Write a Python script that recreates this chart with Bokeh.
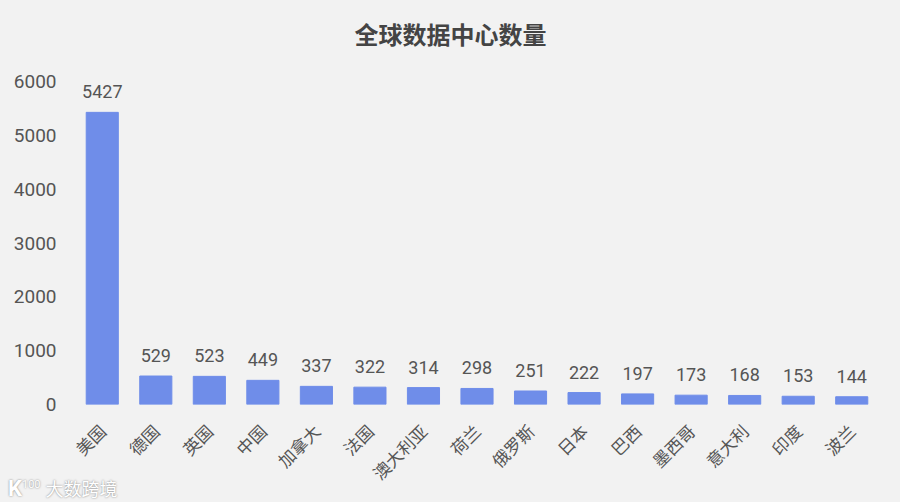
from bokeh.plotting import figure
from bokeh.embed import file_html
from bokeh.resources import INLINE
from bokeh.layouts import column
from bokeh.models import ColumnDataSource, Range1d, FixedTicker, Title, Div
from bokeh.core.properties import value
import math

countries = ["美国","德国","英国","中国","加拿大","法国","澳大利亚","荷兰","俄罗斯","日本","巴西","墨西哥","意大利","印度","波兰"]
counts = [5427,529,523,449,337,322,314,298,251,222,197,173,168,153,144]
y_ticks = [0,1000,2000,3000,4000,5000,6000]
FONT = "Noto Sans CJK SC"
BG = "#F2F2F2"
TXT = "#555555"
p = figure(width=900, height=502, x_range=countries, y_range=Range1d(0, 6000),
           output_backend="svg", toolbar_location=None, background_fill_color=BG,
           border_fill_color=BG, outline_line_color=None,
           min_border_left=75, min_border_right=22, min_border_top=81, min_border_bottom=98)
src = ColumnDataSource(dict(c=countries, v=counts, t=[str(v) for v in counts]))
p.vbar(x="c", top="v", width=0.6, source=src, color="#6F8DE9")
p.text(x="c", y="v", text="t", source=src, text_align="center", text_baseline="bottom", y_offset=-14,
       text_font=value("Roboto"), text_font_size="18px", text_color=TXT)
p.grid.visible = False
p.yaxis.ticker = FixedTicker(ticks=y_ticks)
p.yaxis.axis_line_color = None
p.yaxis.major_tick_line_color = None
p.yaxis.minor_tick_line_color = None
p.yaxis.major_label_standoff = 13
p.yaxis.major_label_text_font = "Roboto"
p.yaxis.major_label_text_font_size = "19px"
p.yaxis.major_label_text_color = TXT
p.xaxis.axis_line_color = None
p.xaxis.major_tick_line_color = None
p.xaxis.minor_tick_line_color = None
p.xaxis.major_label_standoff = 17
p.xaxis.major_label_text_font = FONT
p.xaxis.major_label_text_font_size = "17px"
p.xaxis.major_label_text_color = TXT
p.xaxis.major_label_orientation = math.pi/4
p.title = Title(text="全球数据中心数量\n ", align="left", offset=279, standoff=2, text_font=FONT,
                text_font_size="24px", text_font_style="bold", text_color="#444444", text_line_height=0.85)
mark = Div(width=130, height=26, margin=(-26, 0, 0, 8),
           text=('<div style="line-height:22px;white-space:nowrap;color:#FFFFFF;text-shadow:0 0 2px #777777;'
                 'font-family:\'Noto Sans CJK SC\'"><span style="font:bold 22px Roboto">K</span>'
                 '<span style="font:11px Roboto;vertical-align:8px;margin-right:5px">100</span>'
                 '<span style="font-size:18px">大数跨境</span></div>'))
layout = column(p, mark, spacing=0)
html = file_html(layout, INLINE).replace("<head>", "<head><style>html,body{background:#F2F2F2}</style>", 1)
open("out.html", "w").write(html)
